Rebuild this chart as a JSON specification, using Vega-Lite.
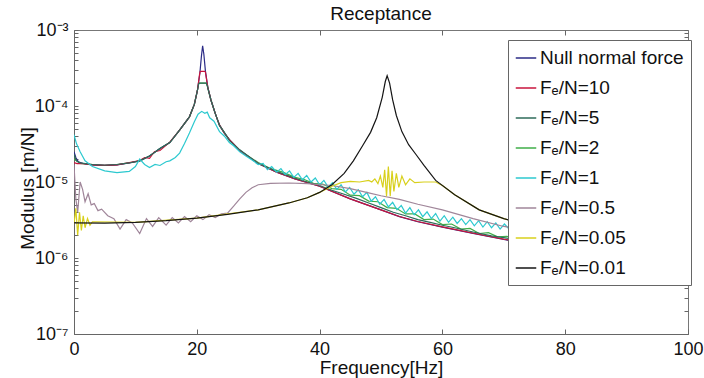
{
  "$schema": "https://vega.github.io/schema/vega-lite/v6.json",
  "width": 614,
  "height": 304,
  "autosize": {"type": "none"},
  "padding": {"left": 74, "top": 30, "right": 16, "bottom": 44},
  "background": "white",
  "config": {
    "font": "Liberation Sans",
    "view": {"stroke": "#777", "strokeWidth": 1},
    "axis": {"labelFont": "Liberation Sans", "titleFont": "Liberation Sans", "grid": false}
  },
  "title": {"text": "Receptance", "fontSize": 19, "fontWeight": "normal", "color": "#111", "offset": 6, "dy": 9, "font": "Liberation Sans"},
  "data": {"values": [
    {"s":"2","f":0,"v":2.0e-5},{"s":"2","f":1,"v":1.76e-5},{"s":"2","f":3,"v":1.69e-5},{"s":"2","f":5,"v":1.65e-5},{"s":"2","f":7,"v":1.69e-5},{"s":"2","f":9,"v":1.79e-5},{"s":"2","f":10.7,"v":1.9e-5},{"s":"2","f":12.3,"v":2.2e-5},{"s":"2","f":14,"v":2.75e-5},{"s":"2","f":15.6,"v":3.3e-5},{"s":"2","f":17.2,"v":4.8e-5},{"s":"2","f":18.8,"v":7.2e-5},{"s":"2","f":19.6,"v":1.05e-4},{"s":"2","f":20.1,"v":1.6e-4},{"s":"2","f":20.3,"v":1.95e-4},{"s":"2","f":20.4,"v":2.0e-4},{"s":"2","f":21.55,"v":2.0e-4},{"s":"2","f":21.7,"v":1.85e-4},{"s":"2","f":22.3,"v":1.2e-4},{"s":"2","f":23,"v":8e-5},{"s":"2","f":23.7,"v":5.6e-5},{"s":"2","f":24.5,"v":4.4e-5},{"s":"2","f":25.3,"v":3.6e-5},{"s":"2","f":27,"v":2.6e-5},{"s":"2","f":30,"v":1.8e-5},{"s":"2","f":32,"v":1.5e-5},{"s":"2","f":34,"v":1.35e-5},{"s":"2","f":36,"v":1.15e-5},{"s":"2","f":37.5,"v":1.08e-5},{"s":"2","f":39,"v":9.6e-6},{"s":"2","f":40.5,"v":9.4e-6},{"s":"2","f":42,"v":8.2e-6},{"s":"2","f":43.5,"v":8e-6},{"s":"2","f":45,"v":6.7e-6},{"s":"2","f":46.5,"v":6.6e-6},{"s":"2","f":48,"v":5.6e-6},{"s":"2","f":49.5,"v":5.5e-6},{"s":"2","f":51,"v":4.6e-6},{"s":"2","f":52.5,"v":4.5e-6},{"s":"2","f":54,"v":3.8e-6},{"s":"2","f":55.5,"v":3.8e-6},{"s":"2","f":57,"v":3.2e-6},{"s":"2","f":58.5,"v":3.25e-6},{"s":"2","f":60,"v":2.75e-6},{"s":"2","f":61.5,"v":2.8e-6},{"s":"2","f":63,"v":2.4e-6},{"s":"2","f":64.5,"v":2.45e-6},{"s":"2","f":66,"v":2.1e-6},{"s":"2","f":67.5,"v":2.15e-6},{"s":"2","f":69,"v":1.9e-6},{"s":"2","f":70.5,"v":1.92e-6},{"s":"2","f":80,"v":1.4e-6},{"s":"2","f":90,"v":1.1e-6},{"s":"2","f":100,"v":9e-7},

    {"s":"N","f":0,"v":2.5e-5},{"s":"N","f":0.3,"v":2.1e-5},{"s":"N","f":0.7,"v":1.85e-5},{"s":"N","f":1.5,"v":1.75e-5},{"s":"N","f":3,"v":1.68e-5},{"s":"N","f":5,"v":1.65e-5},{"s":"N","f":7,"v":1.68e-5},{"s":"N","f":9,"v":1.78e-5},{"s":"N","f":10.7,"v":1.9e-5},{"s":"N","f":12.3,"v":2.2e-5},{"s":"N","f":14,"v":2.75e-5},{"s":"N","f":15.6,"v":3.3e-5},{"s":"N","f":17.2,"v":4.8e-5},{"s":"N","f":18.8,"v":7.2e-5},{"s":"N","f":19.6,"v":1.05e-4},{"s":"N","f":20.1,"v":1.6e-4},{"s":"N","f":20.5,"v":2.7e-4},{"s":"N","f":20.75,"v":4.5e-4},{"s":"N","f":20.95,"v":6.2e-4},{"s":"N","f":21.15,"v":4.8e-4},{"s":"N","f":21.4,"v":2.9e-4},{"s":"N","f":21.8,"v":1.75e-4},{"s":"N","f":22.3,"v":1.2e-4},{"s":"N","f":23,"v":8e-5},{"s":"N","f":23.7,"v":5.6e-5},{"s":"N","f":24.5,"v":4.4e-5},{"s":"N","f":25.3,"v":3.6e-5},{"s":"N","f":27,"v":2.6e-5},{"s":"N","f":30,"v":1.75e-5},{"s":"N","f":33,"v":1.35e-5},{"s":"N","f":36,"v":1.1e-5},{"s":"N","f":40,"v":8.8e-6},{"s":"N","f":45,"v":6e-6},{"s":"N","f":50,"v":4.3e-6},{"s":"N","f":53,"v":3.5e-6},{"s":"N","f":56,"v":3e-6},{"s":"N","f":60,"v":2.55e-6},{"s":"N","f":65,"v":2.1e-6},{"s":"N","f":70,"v":1.75e-6},{"s":"N","f":75,"v":1.5e-6},{"s":"N","f":80,"v":1.3e-6},{"s":"N","f":90,"v":1.05e-6},{"s":"N","f":100,"v":8.5e-7},

    {"s":"10","f":0,"v":1.8e-5},{"s":"10","f":0.5,"v":1.75e-5},{"s":"10","f":1.5,"v":1.74e-5},{"s":"10","f":3,"v":1.68e-5},{"s":"10","f":5,"v":1.65e-5},{"s":"10","f":7,"v":1.68e-5},{"s":"10","f":9,"v":1.8e-5},{"s":"10","f":10.7,"v":1.92e-5},{"s":"10","f":11.5,"v":2.1e-5},{"s":"10","f":12.3,"v":2.05e-5},{"s":"10","f":13.1,"v":2.5e-5},{"s":"10","f":14,"v":2.6e-5},{"s":"10","f":15.6,"v":3.35e-5},{"s":"10","f":17.2,"v":4.8e-5},{"s":"10","f":18.8,"v":7.2e-5},{"s":"10","f":19.6,"v":1.05e-4},{"s":"10","f":20.1,"v":1.6e-4},{"s":"10","f":20.45,"v":2.6e-4},{"s":"10","f":20.55,"v":2.85e-4},{"s":"10","f":21.3,"v":2.85e-4},{"s":"10","f":21.4,"v":2.8e-4},{"s":"10","f":21.8,"v":1.75e-4},{"s":"10","f":22.3,"v":1.2e-4},{"s":"10","f":23,"v":8e-5},{"s":"10","f":23.7,"v":5.6e-5},{"s":"10","f":24.5,"v":4.4e-5},{"s":"10","f":25.3,"v":3.6e-5},{"s":"10","f":27,"v":2.6e-5},{"s":"10","f":30,"v":1.75e-5},{"s":"10","f":33,"v":1.35e-5},{"s":"10","f":36,"v":1.1e-5},{"s":"10","f":40,"v":8.8e-6},{"s":"10","f":45,"v":6e-6},{"s":"10","f":50,"v":4.3e-6},{"s":"10","f":53,"v":3.52e-6},{"s":"10","f":56,"v":3.02e-6},{"s":"10","f":60,"v":2.57e-6},{"s":"10","f":65,"v":2.12e-6},{"s":"10","f":70,"v":1.77e-6},{"s":"10","f":80,"v":1.3e-6},{"s":"10","f":90,"v":1.05e-6},{"s":"10","f":100,"v":8.5e-7},

    {"s":"5","f":0,"v":2.3e-5},{"s":"5","f":0.4,"v":1.9e-5},{"s":"5","f":1,"v":1.78e-5},{"s":"5","f":3,"v":1.7e-5},{"s":"5","f":5,"v":1.66e-5},{"s":"5","f":7,"v":1.7e-5},{"s":"5","f":9,"v":1.78e-5},{"s":"5","f":10.7,"v":1.9e-5},{"s":"5","f":12.3,"v":2.2e-5},{"s":"5","f":14,"v":2.75e-5},{"s":"5","f":15.6,"v":3.3e-5},{"s":"5","f":17.2,"v":4.8e-5},{"s":"5","f":18.8,"v":7.2e-5},{"s":"5","f":19.6,"v":1.05e-4},{"s":"5","f":20.1,"v":1.6e-4},{"s":"5","f":20.3,"v":1.95e-4},{"s":"5","f":20.4,"v":2.0e-4},{"s":"5","f":21.55,"v":2.0e-4},{"s":"5","f":21.7,"v":1.85e-4},{"s":"5","f":22.3,"v":1.2e-4},{"s":"5","f":23,"v":8e-5},{"s":"5","f":23.7,"v":5.5e-5},{"s":"5","f":24.5,"v":4.5e-5},{"s":"5","f":25.3,"v":3.5e-5},{"s":"5","f":27,"v":2.65e-5},{"s":"5","f":30,"v":1.75e-5},{"s":"5","f":33,"v":1.38e-5},{"s":"5","f":36,"v":1.12e-5},{"s":"5","f":38,"v":1.0e-5},{"s":"5","f":40,"v":9.0e-6},{"s":"5","f":42,"v":7.8e-6},{"s":"5","f":44,"v":6.9e-6},{"s":"5","f":46,"v":6.1e-6},{"s":"5","f":48,"v":5.3e-6},{"s":"5","f":50,"v":4.6e-6},{"s":"5","f":52,"v":4.0e-6},{"s":"5","f":54,"v":3.6e-6},{"s":"5","f":56,"v":3.2e-6},{"s":"5","f":58,"v":2.95e-6},{"s":"5","f":60,"v":2.7e-6},{"s":"5","f":62,"v":2.5e-6},{"s":"5","f":65,"v":2.2e-6},{"s":"5","f":68,"v":1.95e-6},{"s":"5","f":70,"v":1.85e-6},{"s":"5","f":80,"v":1.35e-6},{"s":"5","f":90,"v":1.08e-6},{"s":"5","f":100,"v":8.8e-7},

    {"s":"1","f":0,"v":4.2e-5},{"s":"1","f":0.4,"v":3.2e-5},{"s":"1","f":1,"v":2.5e-5},{"s":"1","f":1.8,"v":1.9e-5},{"s":"1","f":3,"v":1.6e-5},{"s":"1","f":5,"v":1.4e-5},{"s":"1","f":7,"v":1.33e-5},{"s":"1","f":9,"v":1.38e-5},{"s":"1","f":10,"v":1.6e-5},{"s":"1","f":10.7,"v":2e-5},{"s":"1","f":11.5,"v":1.7e-5},{"s":"1","f":12.3,"v":1.55e-5},{"s":"1","f":13.2,"v":1.7e-5},{"s":"1","f":14,"v":1.65e-5},{"s":"1","f":15,"v":1.85e-5},{"s":"1","f":15.6,"v":1.9e-5},{"s":"1","f":16.5,"v":2.1e-5},{"s":"1","f":17.2,"v":2.4e-5},{"s":"1","f":18,"v":3.2e-5},{"s":"1","f":18.8,"v":4.4e-5},{"s":"1","f":19.6,"v":6.2e-5},{"s":"1","f":20.2,"v":7.8e-5},{"s":"1","f":20.8,"v":8.5e-5},{"s":"1","f":21.3,"v":8.0e-5},{"s":"1","f":21.7,"v":8.3e-5},{"s":"1","f":22.1,"v":7.0e-5},{"s":"1","f":22.8,"v":6.3e-5},{"s":"1","f":23.7,"v":4.6e-5},{"s":"1","f":24.5,"v":4.0e-5},{"s":"1","f":25.3,"v":3.3e-5},{"s":"1","f":26,"v":3.0e-5},{"s":"1","f":27,"v":2.5e-5},{"s":"1","f":28,"v":2.2e-5},{"s":"1","f":29,"v":1.95e-5},
    {"s":"1","f":30,"v":1.7e-5},{"s":"1","f":30.8,"v":1.75e-5},{"s":"1","f":31.5,"v":1.45e-5},{"s":"1","f":32.2,"v":1.6e-5},{"s":"1","f":33,"v":1.35e-5},{"s":"1","f":33.7,"v":1.5e-5},{"s":"1","f":34.4,"v":1.25e-5},{"s":"1","f":35.1,"v":1.4e-5},{"s":"1","f":35.8,"v":1.15e-5},{"s":"1","f":36.5,"v":1.3e-5},{"s":"1","f":37.2,"v":1.07e-5},{"s":"1","f":37.9,"v":1.22e-5},{"s":"1","f":38.6,"v":1.0e-5},{"s":"1","f":39.3,"v":1.13e-5},{"s":"1","f":40,"v":9.2e-6},{"s":"1","f":40.7,"v":1.05e-5},{"s":"1","f":41.4,"v":8.6e-6},{"s":"1","f":42.1,"v":9.8e-6},{"s":"1","f":42.8,"v":8.0e-6},{"s":"1","f":43.5,"v":9.2e-6},{"s":"1","f":44.2,"v":7.4e-6},{"s":"1","f":44.9,"v":8.5e-6},{"s":"1","f":45.6,"v":6.9e-6},{"s":"1","f":46.3,"v":7.9e-6},{"s":"1","f":47,"v":6.4e-6},{"s":"1","f":47.7,"v":7.3e-6},{"s":"1","f":48.4,"v":5.6e-6},{"s":"1","f":49.1,"v":6.4e-6},{"s":"1","f":49.8,"v":5.1e-6},{"s":"1","f":50.5,"v":5.9e-6},{"s":"1","f":51.2,"v":4.7e-6},{"s":"1","f":51.9,"v":5.4e-6},{"s":"1","f":52.6,"v":4.3e-6},{"s":"1","f":53.3,"v":4.9e-6},{"s":"1","f":54,"v":3.9e-6},{"s":"1","f":54.7,"v":4.6e-6},{"s":"1","f":55.4,"v":3.7e-6},{"s":"1","f":56.1,"v":4.3e-6},{"s":"1","f":56.8,"v":3.5e-6},{"s":"1","f":57.5,"v":4.05e-6},{"s":"1","f":58.2,"v":3.3e-6},{"s":"1","f":58.9,"v":3.85e-6},{"s":"1","f":59.6,"v":3.05e-6},{"s":"1","f":60.3,"v":3.6e-6},{"s":"1","f":61,"v":2.95e-6},{"s":"1","f":61.7,"v":3.45e-6},{"s":"1","f":62.4,"v":2.85e-6},{"s":"1","f":63.1,"v":3.3e-6},{"s":"1","f":63.8,"v":2.75e-6},{"s":"1","f":64.5,"v":3.2e-6},{"s":"1","f":65.2,"v":2.65e-6},{"s":"1","f":65.9,"v":3.1e-6},{"s":"1","f":66.6,"v":2.55e-6},{"s":"1","f":67.3,"v":3.0e-6},{"s":"1","f":68,"v":2.5e-6},{"s":"1","f":68.7,"v":2.9e-6},{"s":"1","f":69.4,"v":2.4e-6},{"s":"1","f":70.1,"v":2.8e-6},{"s":"1","f":71,"v":2.35e-6},{"s":"1","f":73,"v":2.3e-6},{"s":"1","f":76,"v":2.1e-6},{"s":"1","f":80,"v":1.9e-6},{"s":"1","f":90,"v":1.5e-6},{"s":"1","f":100,"v":1.2e-6},

    {"s":"0.5","f":0,"v":1.7e-5},{"s":"0.5","f":0.3,"v":6e-6},{"s":"0.5","f":0.6,"v":4e-6},{"s":"0.5","f":1,"v":1e-5},{"s":"0.5","f":1.4,"v":8e-6},{"s":"0.5","f":1.8,"v":5.5e-6},{"s":"0.5","f":2.3,"v":7e-6},{"s":"0.5","f":2.8,"v":5e-6},{"s":"0.5","f":3.3,"v":5.2e-6},{"s":"0.5","f":3.9,"v":4.2e-6},{"s":"0.5","f":4.5,"v":4.4e-6},{"s":"0.5","f":5.5,"v":3.6e-6},{"s":"0.5","f":6.5,"v":3.3e-6},{"s":"0.5","f":7.5,"v":2.4e-6},{"s":"0.5","f":8.5,"v":3.2e-6},{"s":"0.5","f":9.5,"v":2.9e-6},{"s":"0.5","f":10.7,"v":2.1e-6},{"s":"0.5","f":11.8,"v":3.3e-6},{"s":"0.5","f":12.8,"v":2.6e-6},{"s":"0.5","f":13.8,"v":3.4e-6},{"s":"0.5","f":15,"v":2.7e-6},{"s":"0.5","f":16,"v":3.4e-6},{"s":"0.5","f":17,"v":2.9e-6},{"s":"0.5","f":18,"v":3.5e-6},{"s":"0.5","f":19,"v":3.0e-6},{"s":"0.5","f":20,"v":3.6e-6},{"s":"0.5","f":21,"v":3.2e-6},{"s":"0.5","f":22,"v":3.7e-6},{"s":"0.5","f":23,"v":3.4e-6},{"s":"0.5","f":24,"v":3.8e-6},{"s":"0.5","f":25,"v":3.9e-6},{"s":"0.5","f":26,"v":4.8e-6},{"s":"0.5","f":27,"v":6e-6},{"s":"0.5","f":28,"v":7.3e-6},{"s":"0.5","f":29,"v":8.4e-6},{"s":"0.5","f":30,"v":9.2e-6},{"s":"0.5","f":32,"v":9.6e-6},{"s":"0.5","f":35,"v":9.7e-6},{"s":"0.5","f":38,"v":9.5e-6},{"s":"0.5","f":42,"v":9e-6},{"s":"0.5","f":45,"v":8.2e-6},{"s":"0.5","f":48,"v":7.2e-6},{"s":"0.5","f":50,"v":6.6e-6},{"s":"0.5","f":53,"v":5.9e-6},{"s":"0.5","f":56,"v":5.1e-6},{"s":"0.5","f":60,"v":4.3e-6},{"s":"0.5","f":65,"v":3.3e-6},{"s":"0.5","f":70,"v":2.6e-6},{"s":"0.5","f":80,"v":2e-6},{"s":"0.5","f":90,"v":1.6e-6},{"s":"0.5","f":100,"v":1.3e-6},

    {"s":"0.05","f":0,"v":2.8e-6},{"s":"0.05","f":0.3,"v":4.5e-6},{"s":"0.05","f":0.6,"v":2e-6},{"s":"0.05","f":0.9,"v":4e-6},{"s":"0.05","f":1.2,"v":2.3e-6},{"s":"0.05","f":1.5,"v":3.6e-6},{"s":"0.05","f":1.8,"v":2.5e-6},{"s":"0.05","f":2.2,"v":3.3e-6},{"s":"0.05","f":2.6,"v":2.7e-6},{"s":"0.05","f":3,"v":3.0e-6},{"s":"0.05","f":10,"v":2.95e-6},{"s":"0.05","f":20,"v":3.35e-6},{"s":"0.05","f":30,"v":4.3e-6},{"s":"0.05","f":35,"v":5.3e-6},{"s":"0.05","f":38,"v":6.2e-6},{"s":"0.05","f":40,"v":7.3e-6},{"s":"0.05","f":42,"v":8.8e-6},{"s":"0.05","f":43.5,"v":9.8e-6},{"s":"0.05","f":45,"v":1.02e-5},{"s":"0.05","f":46.5,"v":1.0e-5},{"s":"0.05","f":48,"v":1.05e-5},{"s":"0.05","f":48.5,"v":1.0e-5},{"s":"0.05","f":49,"v":1.1e-5},{"s":"0.05","f":49.5,"v":9.5e-6},{"s":"0.05","f":49.9,"v":1.2e-5},{"s":"0.05","f":50.3,"v":8.5e-6},{"s":"0.05","f":50.6,"v":1.45e-5},{"s":"0.05","f":50.9,"v":6.5e-6},{"s":"0.05","f":51.2,"v":1.6e-5},{"s":"0.05","f":51.5,"v":6.5e-6},{"s":"0.05","f":51.8,"v":1.4e-5},{"s":"0.05","f":52.1,"v":7.5e-6},{"s":"0.05","f":52.5,"v":1.3e-5},{"s":"0.05","f":52.9,"v":8.5e-6},{"s":"0.05","f":53.4,"v":1.2e-5},{"s":"0.05","f":54,"v":9.2e-6},{"s":"0.05","f":54.7,"v":1.1e-5},{"s":"0.05","f":55.5,"v":9.8e-6},{"s":"0.05","f":57,"v":1.0e-5},{"s":"0.05","f":58.9,"v":1.0e-5},{"s":"0.05","f":60,"v":9e-6},{"s":"0.05","f":62,"v":6.8e-6},{"s":"0.05","f":66,"v":4.3e-6},{"s":"0.05","f":70,"v":3.3e-6},{"s":"0.05","f":80,"v":2e-6},{"s":"0.05","f":90,"v":1.4e-6},{"s":"0.05","f":100,"v":1.05e-6},

    {"s":"0.01","f":0,"v":2.9e-6},{"s":"0.01","f":5,"v":2.88e-6},{"s":"0.01","f":10,"v":2.95e-6},{"s":"0.01","f":15,"v":3.1e-6},{"s":"0.01","f":20,"v":3.35e-6},{"s":"0.01","f":25,"v":3.75e-6},{"s":"0.01","f":30,"v":4.3e-6},{"s":"0.01","f":35,"v":5.3e-6},{"s":"0.01","f":38,"v":6.2e-6},{"s":"0.01","f":40,"v":7.3e-6},{"s":"0.01","f":42,"v":9.2e-6},{"s":"0.01","f":44,"v":1.3e-5},{"s":"0.01","f":45.5,"v":1.9e-5},{"s":"0.01","f":47,"v":3e-5},{"s":"0.01","f":48.3,"v":4.5e-5},{"s":"0.01","f":49.3,"v":7e-5},{"s":"0.01","f":50.2,"v":1.3e-4},{"s":"0.01","f":50.7,"v":2.1e-4},{"s":"0.01","f":51,"v":2.5e-4},{"s":"0.01","f":51.4,"v":2.0e-4},{"s":"0.01","f":51.9,"v":1.2e-4},{"s":"0.01","f":52.5,"v":7.5e-5},{"s":"0.01","f":53.4,"v":4.6e-5},{"s":"0.01","f":54.5,"v":3.1e-5},{"s":"0.01","f":55.7,"v":2.3e-5},{"s":"0.01","f":57,"v":1.65e-5},{"s":"0.01","f":58.9,"v":1.05e-5},{"s":"0.01","f":62,"v":6.8e-6},{"s":"0.01","f":66,"v":4.3e-6},{"s":"0.01","f":70,"v":3.3e-6},{"s":"0.01","f":80,"v":2e-6},{"s":"0.01","f":90,"v":1.4e-6},{"s":"0.01","f":100,"v":1.05e-6}
  ]},
  "layer": [
    {
      "mark": {"type": "line", "strokeWidth": 1.2, "clip": true},
      "encoding": {
        "x": {"field": "f", "type": "quantitative", "scale": {"domain": [0, 100], "nice": false},
          "axis": {"orient": "bottom", "values": [0, 20, 40, 60, 80, 100], "tickSize": -5, "tickColor": "#666", "domainColor": "#666", "labelFontSize": 18, "labelColor": "#111", "labelPadding": 11, "labelFlush": false, "title": "Frequency[Hz]", "titleFontSize": 19, "titleFontWeight": "normal", "titleColor": "#111", "titlePadding": 0}},
        "y": {"field": "v", "type": "quantitative", "scale": {"type": "log", "domain": [1e-7, 1e-3], "nice": false},
          "axis": {"orient": "left", "values": [1e-7,2e-7,3e-7,4e-7,5e-7,6e-7,7e-7,8e-7,9e-7,1e-6,2e-6,3e-6,4e-6,5e-6,6e-6,7e-6,8e-6,9e-6,1e-5,2e-5,3e-5,4e-5,5e-5,6e-5,7e-5,8e-5,9e-5,1e-4,2e-4,3e-4,4e-4,5e-4,6e-4,7e-4,8e-4,9e-4,1e-3],
            "labelExpr": "abs(log(datum.value)/LN10 - round(log(datum.value)/LN10)) < 0.01 ? '10' + ['⁻⁷','⁻⁶','⁻⁵','⁻⁴','⁻³'][round(log(datum.value)/LN10) + 7] : ''",
            "labelOverlap": false, "tickSize": -4, "tickColor": "#666", "domainColor": "#666", "labelFontSize": 18, "labelColor": "#111", "labelPadding": 10,
            "title": "Modulus [m/N]", "titleFontSize": 19, "titleFontWeight": "normal", "titleColor": "#111", "titleX": -47, "titleY": 158, "titleAlign": "center", "titleBaseline": "middle", "titleAngle": -90}},
        "color": {"field": "s", "type": "nominal",
          "scale": {"domain": ["N", "10", "5", "2", "1", "0.5", "0.05", "0.01"], "range": ["#2b2b86", "#c8143c", "#2e6b5a", "#3fae49", "#2cc9cf", "#a0869a", "#d8d01c", "#151515"]},
          "legend": {"title": null, "orient": "none", "legendX": 434, "legendY": 10, "fillColor": "white", "strokeColor": "#666", "padding": 7,
            "symbolType": "stroke", "symbolSize": 420, "symbolStrokeWidth": 1.5, "labelFontSize": 19, "labelFont": "Liberation Sans", "labelColor": "#111", "labelOffset": 3, "rowPadding": 9, "labelLimit": 300,
            "labelExpr": "datum.label == 'N' ? 'Null normal force' : 'Fₑ/N=' + datum.label"}}
      }
    },
    {
      "mark": {"type": "line", "opacity": 0},
      "encoding": {
        "x": {"field": "f", "type": "quantitative", "axis": {"orient": "top", "values": [20, 40, 60, 80], "labels": false, "tickSize": -5, "tickColor": "#666", "domain": false, "title": null}},
        "y": {"field": "v", "type": "quantitative", "axis": {"orient": "right", "values": [1e-7,2e-7,3e-7,4e-7,5e-7,6e-7,7e-7,8e-7,9e-7,1e-6,2e-6,3e-6,4e-6,5e-6,6e-6,7e-6,8e-6,9e-6,1e-5,2e-5,3e-5,4e-5,5e-5,6e-5,7e-5,8e-5,9e-5,1e-4,2e-4,3e-4,4e-4,5e-4,6e-4,7e-4,8e-4,9e-4,1e-3], "labels": false, "tickSize": -4, "tickColor": "#666", "domain": false, "title": null}},
        "detail": {"field": "s", "type": "nominal"}
      }
    }
  ],
  "resolve": {"axis": {"x": "independent", "y": "independent"}}
}
